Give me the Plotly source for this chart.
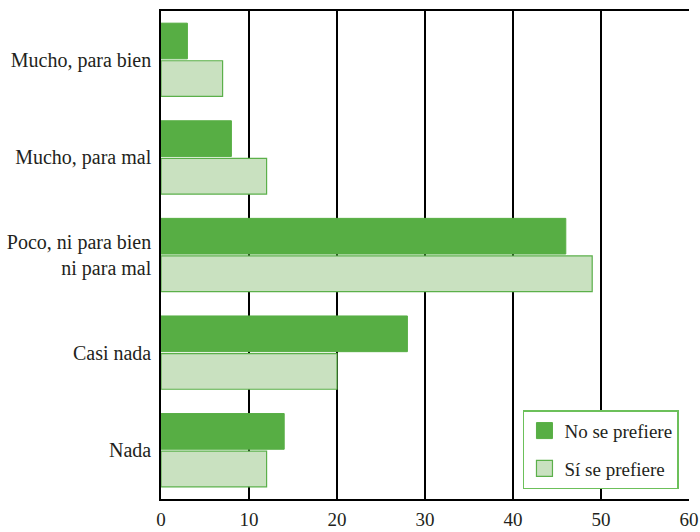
import plotly.graph_objects as go

categories = ["Mucho, para bien", "Mucho, para mal", "Poco, ni para bien<br>ni para mal", "Casi nada", "Nada"]
no_se_prefiere = [3, 8, 46, 28, 14]
si_se_prefiere = [7, 12, 49, 20, 12]
x_ticks = [0, 10, 20, 30, 40, 50, 60]

dark = "#57ae44"
light = "#c9e1c0"
edge = "#5bb04a"

fig = go.Figure()
fig.add_trace(go.Bar(
    y=categories, x=no_se_prefiere, orientation="h", name="No se prefiere",
    marker=dict(color=dark, line=dict(color=dark, width=1)), showlegend=False,
))
fig.add_trace(go.Bar(
    y=categories, x=si_se_prefiere, orientation="h", name="Sí se prefiere",
    marker=dict(color=light, line=dict(color=edge, width=1.2)), showlegend=False,
))
# legend entries
fig.add_trace(go.Scatter(
    x=[None], y=[None], mode="markers", name="No se prefiere", legendgroup="a",
    marker=dict(symbol="square", size=22, color=dark, line=dict(color=dark, width=1)),
))
fig.add_trace(go.Scatter(
    x=[None], y=[None], mode="markers", name="Sí se prefiere", legendgroup="b",
    marker=dict(symbol="square", size=22, color=light, line=dict(color=edge, width=1.2)),
))

fig.update_layout(
    width=700, height=532,
    margin=dict(l=161, r=11, t=11, b=33),
    paper_bgcolor="white", plot_bgcolor="white",
    barmode="group", bargap=0.23, bargroupgap=0.05,
    font=dict(family="Liberation Serif", size=20, color="#231f20"),
    showlegend=True,
    legend=dict(
        x=0.981, y=0.02, xanchor="right", yanchor="bottom",
        bordercolor="#6cc05a", borderwidth=1.5, bgcolor="white",
        font=dict(size=19), itemsizing="trace",
        tracegroupgap=10,
    ),
    xaxis=dict(
        range=[0, 60], tickvals=x_ticks, ticktext=[str(v) for v in x_ticks],
        showgrid=True, gridcolor="black", gridwidth=1.5,
        showline=True, linecolor="black", linewidth=1.5, mirror=True,
        ticks="", zeroline=False, tickfont=dict(size=19), automargin=False,
        ticklabelstandoff=2,
    ),
    yaxis=dict(
        autorange="reversed", showgrid=False,
        showline=True, linecolor="black", linewidth=1.5,
        ticks="", ticklabelstandoff=4, tickfont=dict(size=20), automargin=False,
    ),
)

fig.write_html(
    "out.html",
    config={"displayModeBar": False},
    post_script="document.body.style.margin='0';document.body.style.padding='0';document.body.style.overflow='hidden';",
)
